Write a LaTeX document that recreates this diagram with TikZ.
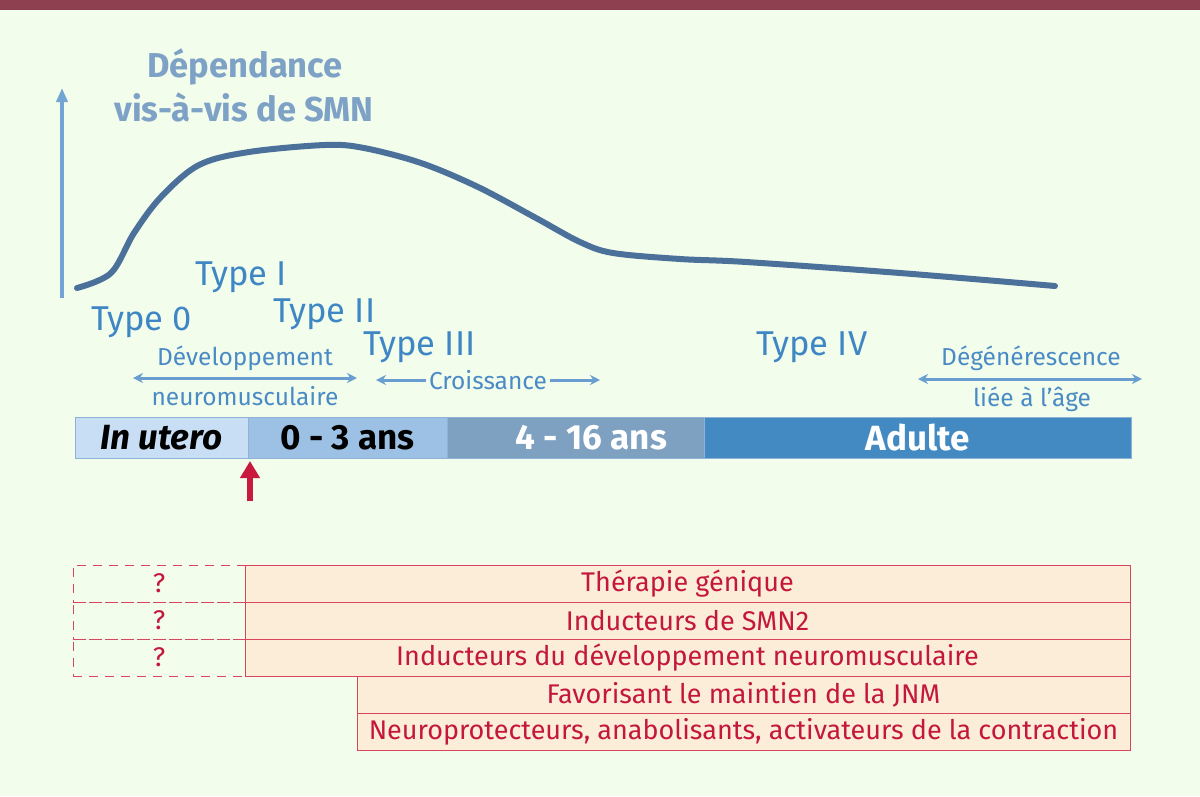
\documentclass[tikz,border=0pt]{standalone}
\usepackage{fontspec}
\setmainfont{Fira Sans}
\usepackage{tikz}
\usetikzlibrary{arrows.meta, positioning}

\definecolor{bgcolor}{HTML}{F2FDEC}
\definecolor{barred}{HTML}{8E4050}
\definecolor{axisblue}{HTML}{72A4D4}
\definecolor{titleblue}{HTML}{7EA1C6}
\definecolor{curveblue}{HTML}{4B719A}
\definecolor{typeblue}{HTML}{3F87C4}
\definecolor{phaseblue}{HTML}{4A8BC6}
\definecolor{arrowblue}{HTML}{6A9ED0}
\definecolor{uterofill}{HTML}{C7DEF4}
\definecolor{earlyfill}{HTML}{9DC1E5}
\definecolor{childfill}{HTML}{7EA1C1}
\definecolor{adultfill}{HTML}{438AC2}
\definecolor{barline}{HTML}{8FB3D6}
\definecolor{startred}{HTML}{C8193E}
\definecolor{boxred}{HTML}{D9455F}
\definecolor{boxfill}{HTML}{FBEDD7}
\definecolor{textred}{HTML}{C4173C}

\begin{document}
\begin{tikzpicture}[x=1pt, y=-1pt,
  every node/.style={inner sep=0pt, outer sep=0pt},
  title/.style={font=\bfseries\fontsize{34.5}{34.5}\selectfont, text=titleblue, anchor=base},
  typelabel/.style={font=\fontsize{34.5}{34.5}\selectfont, text=typeblue, anchor=base west},
  phase/.style={font=\fontsize{24.5}{24.5}\selectfont, text=phaseblue, anchor=base},
  phasearrow/.style={draw=arrowblue, line width=3pt,
    {Stealth[length=10pt,width=10pt]}-{Stealth[length=10pt,width=10pt]}},
  period/.style={minimum height=41pt, anchor=west, draw=barline, line width=0.6pt,
    font=\bfseries\fontsize{35}{35}\selectfont},
  therapy/.style={draw=boxred, line width=1pt, fill=boxfill, minimum height=37pt,
    anchor=north west, text=textred, font=\fontsize{27}{27}\selectfont},
  unknown/.style={draw=boxred, dash pattern=on 9pt off 7pt, line width=1pt,
    minimum height=37pt, minimum width=172pt, anchor=north west, text=textred,
    font=\fontsize{27}{27}\selectfont}]

  \fill[bgcolor] (0,0) rectangle (1200,796);
  \fill[barred] (0,0) rectangle (1200,10);

  \coordinate (axis-low) at (62,298);
  \coordinate (axis-high) at (62,88);
  \draw[axisblue, line width=3.5pt, -{Triangle[length=14pt,width=11pt]}] (axis-low) -- (axis-high);

  \node[title] (dep) at (245,77) {Dépendance};
  \node[title] (smn-dep) at (244,121) {vis-à-vis de SMN};

  \draw[curveblue, line width=6pt, line cap=round] plot[smooth, tension=0.55] coordinates {
    (77,288) (111,273) (134,233) (161,197) (199,165) (249,152) (325,145) (364,148)
    (421,163) (478,187) (536,218) (580,242) (613,253) (680,259) (746,262) (900,273) (1055,286)};

  \node[typelabel] (type0) at (91,330) {Type 0};
  \node[typelabel] (type1) at (195,285) {Type I};
  \node[typelabel] (type2) at (273,322) {Type II};
  \node[typelabel] (type3) at (363,355) {Type III};
  \node[typelabel] (type4) at (756,355) {Type IV};

  \node[phase] (dev-top) at (245,365) {Développement};
  \node[phase] (dev-bottom) at (245,405) {neuromusculaire};
  \coordinate (dev-l) at (133,378);
  \coordinate (dev-r) at (357,378);
  \draw[phasearrow] (dev-l) -- (dev-r);

  \coordinate (grow-l) at (376,380);
  \coordinate (grow-r) at (600,380);
  \draw[phasearrow] (grow-l) -- node[phase, anchor=center, fill=bgcolor, inner xsep=3pt] (grow) {Croissance} (grow-r);

  \node[phase] (age-top) at (1031,365) {Dégénérescence};
  \node[phase] (age-bottom) at (1032,406) {liée à l’âge};
  \coordinate (age-l) at (918,379);
  \coordinate (age-r) at (1142,379);
  \draw[phasearrow] (age-l) -- (age-r);

  \node[period, fill=uterofill, minimum width=173pt,
    font=\bfseries\itshape\fontsize{35}{35}\selectfont] (utero) at (75,437.5) {In utero};
  \node[period, fill=earlyfill, minimum width=199pt, right=0pt of utero] (early) {0 - 3 ans};
  \node[period, fill=childfill, minimum width=257pt, right=0pt of early,
    label={[xshift=16pt, text=white, font=\bfseries\fontsize{35}{35}\selectfont]center:4 - 16 ans}] (child) {};
  \node[period, fill=adultfill, minimum width=427pt, right=0pt of child, text=white] (adult) {Adulte};

  \coordinate (start-low) at (250,501);
  \coordinate (start-high) at (250,461);
  \draw[startred, line width=6.5pt, -{Triangle[length=17pt,width=19pt]}] (start-low) -- (start-high);

  \foreach \y in {565,602,639}
    \node[unknown] (ask-\y) at (73,\y) {?};
  \node[therapy, minimum width=885pt] (gene) at (245,565) {Thérapie génique};
  \node[therapy, minimum width=885pt] (smn2) at (245,602) {Inducteurs de SMN2};
  \node[therapy, minimum width=885pt] (devnm) at (245,639) {Inducteurs du développement neuromusculaire};
  \node[therapy, minimum width=773pt] (jnm) at (357,676) {Favorisant le maintien de la JNM};
  \node[therapy, minimum width=773pt] (protect) at (357,713) {Neuroprotecteurs, anabolisants, activateurs de la contraction};
\end{tikzpicture}
\end{document}
